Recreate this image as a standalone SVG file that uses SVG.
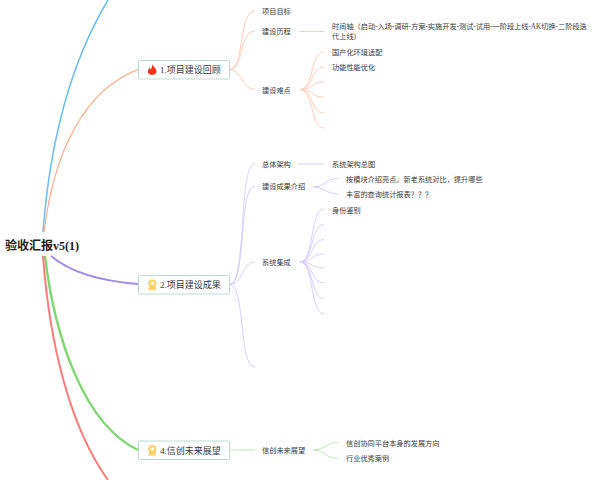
<svg xmlns="http://www.w3.org/2000/svg" width="600" height="480" viewBox="0 0 600 480">
<style>
text{font-family:"Liberation Serif","Noto Sans CJK SC",serif;fill:#3a3a3a}
.s{font-size:7.2px;dominant-baseline:central}
.m{font-size:9px;dominant-baseline:central}
.r{font-size:12px;font-weight:bold;fill:#222;dominant-baseline:central}
.box{fill:#fff;stroke:#bcdcd0;stroke-width:1}
.o{stroke:#ffcab4;stroke-width:.9}
.p{stroke:#d6caff;stroke-width:.9}
.g{stroke:#b8e8b0;stroke-width:.9}
.medal{fill:#ffd873;stroke:#f2b93d;stroke-width:.5}
</style>
<g id="connectors" fill="none">
<path d="M43 232C50 140 72 60 108 0" stroke="#6cbcf0" stroke-width="1.5"/>
<path d="M44 232C54 150 85 90 138 69.500" stroke="#ffa481" stroke-width="1.100"/>
<path d="M51 256C70 272 100 281 138 284" stroke="#a58af0" stroke-width="2"/>
<path d="M45 256C55 340 85 425 138 450" stroke="#7fd672" stroke-width="2.400"/>
<path d="M43 256C50 350 72 430 108 480" stroke="#ff7b7b" stroke-width="2"/>
<path class="o" d="M229.500 69.500C245 69.500 238 11 255 11M229.500 69.500C245 69.500 238 31 255 31M229.500 69.500C242 69.500 242 89.500 255 89.500M299 31.500H324"/>
<path class="o" d="M300 89.500C314 89.500 310 52 324 52M300 89.500C314 89.500 310 67 324 67M300 89.500C314 89.500 310 82 324 82M300 89.500C314 89.500 310 97 324 97M300 89.500C314 89.500 310 113 324 113M300 89.500C314 89.500 310 128 324 128"/>
<path class="p" d="M229.500 284.500C247 284.500 238 163.500 255 163.500M229.500 284.500C247 284.500 238 186 255 186M229.500 284.500C244 284.500 241 262 255 262M229.500 284.500C246 284.500 238 367 255 367M298 164H324"/>
<path class="p" d="M313 187C325 187 326 178.500 338 178.500M313 187C325 187 326 194 338 194"/>
<path class="p" d="M300 262C314 262 310 209 324 209M300 262C314 262 310 224.500 324 224.500M300 262C314 262 310 239.500 324 239.500M300 262C314 262 310 254 324 254M300 262C314 262 310 268 324 268M300 262C314 262 310 283 324 283M300 262C314 262 310 298.500 324 298.500M300 262C314 262 310 314 324 314"/>
<path class="g" d="M229.500 450H255M313 450C325 450 326 442.500 338 442.500M313 450C325 450 326 458.500 338 458.500"/>
</g>
<g id="root"><text x="5" y="245.500" class="r">验收汇报v5(1)</text></g>
<g id="node1">
<rect class="box" x="138.500" y="60.500" width="91" height="18.500" rx="1"/>
<path d="M152 64C153 66.500 156.500 68 156.500 72A4.500 3.800 0 0 1 147.800 72C147.800 70 149 69 149.500 67.500C150.300 68.500 150.600 69 151 69.300C151.800 67.500 152.300 66 152 64Z" fill="#f5301e"/>
<text x="160" y="70" class="m">1.项目建设回顾</text>
</g>
<g id="node2">
<rect class="box" x="138.500" y="275.500" width="91" height="18.500" rx="1"/>
<circle class="medal" cx="152.300" cy="283.500" r="3.800"/><circle cx="152.300" cy="283.500" r="1.500" fill="#fff"/><path class="medal" d="M149.500 287L148.500 290L151 289.300L152.300 290.500L153.600 289.300L156 290L155 287Z"/>
<text x="160" y="285" class="m">2.项目建设成果</text>
</g>
<g id="node4">
<rect class="box" x="138.500" y="441" width="91" height="18.500" rx="1"/>
<circle class="medal" cx="152.300" cy="449" r="3.800"/><circle cx="152.300" cy="449" r="1.500" fill="#fff"/><path class="medal" d="M149.500 452.500L148.500 455.500L151 454.800L152.300 456L153.600 454.800L156 455.500L155 452.500Z"/>
<text x="160" y="450.500" class="m">4.信创未来展望</text>
</g>
<g id="branch1">
<text x="262" y="11.500" class="s">项目目标</text>
<text x="262" y="32" class="s">建设历程</text>
<text x="332" y="27" class="s">时间轴（启动-入场-调研-方案-实施开发-测试-试用-一阶段上线-AK切换-二阶段迭</text>
<text x="332" y="37" class="s">代上线）</text>
<text x="262" y="90.500" class="s">建设难点</text>
<text x="332" y="52.500" class="s">国产化环境适配</text>
<text x="332" y="68" class="s">功能性能优化</text>
</g>
<g id="branch2">
<text x="262" y="164.500" class="s">总体架构</text>
<text x="332" y="164.500" class="s">系统架构总图</text>
<text x="262" y="187" class="s">建设成果介绍</text>
<text x="346" y="179.500" class="s">按模块介绍亮点。新老系统对比，提升哪些</text>
<text x="346" y="195" class="s">丰富的查询统计报表？？？</text>
<text x="262" y="262.500" class="s">系统集成</text>
<text x="332" y="210.500" class="s">身份鉴别</text>
</g>
<g id="branch4">
<text x="262" y="451" class="s">信创未来展望</text>
<text x="346" y="443.500" class="s">信创协同平台本身的发展方向</text>
<text x="346" y="459" class="s">行业优秀案例</text>
</g>
</svg>
